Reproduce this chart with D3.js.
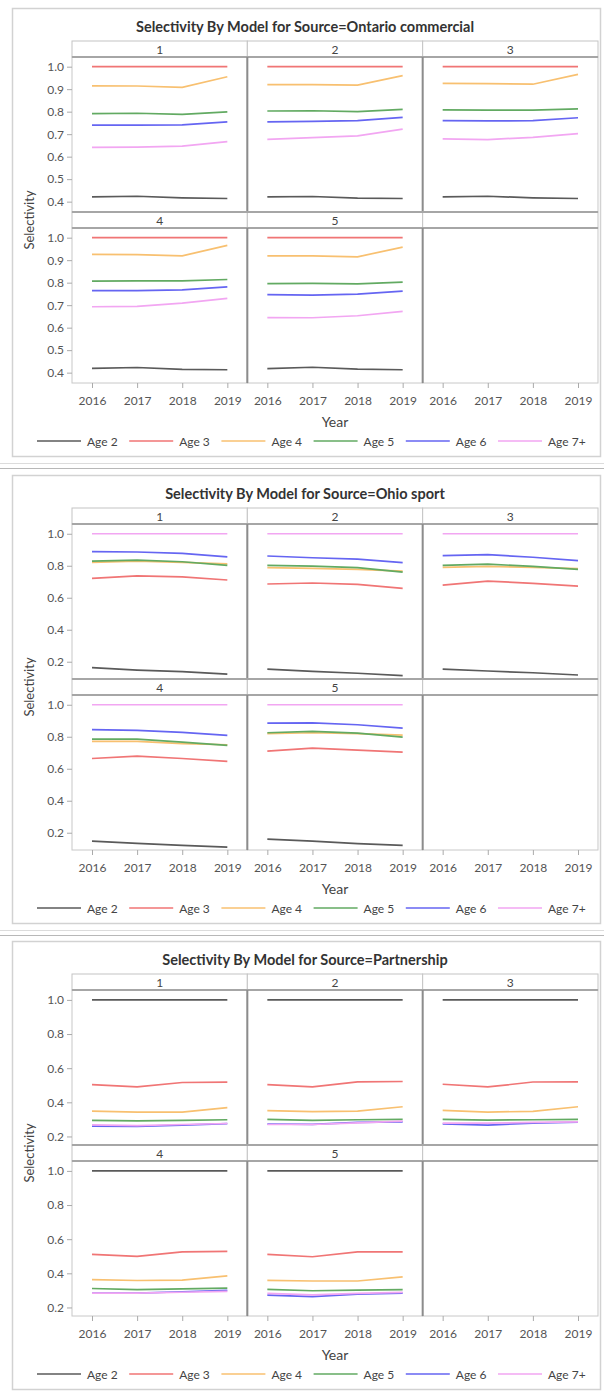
<!DOCTYPE html>
<html>
<head>
<meta charset="utf-8">
<script src="https://cdn.jsdelivr.net/npm/d3@7"></script>
<style>
  body { margin: 0; background: #fff; }
  text { font-family: Lato, "Open Sans", sans-serif; }
</style>
</head>
<body>
<svg id="chart" width="604" height="1391"></svg>
<script>
// Data
const years = [2016, 2017, 2018, 2019];
const ages = ["Age 2", "Age 3", "Age 4", "Age 5", "Age 6", "Age 7+"];
const models = ["1", "2", "3", "4", "5"];
const sources = ["Ontario commercial", "Ohio sport", "Partnership"];
const ageColors = ["#5a5a5a", "#f07575", "#f8c070", "#62aa62", "#6565f2", "#f2a6f2"];

// one block per model, one row per age (Age 2 .. Age 7+)
const ontarioSel = [
  [[0.421, 0.424, 0.417, 0.414], [1, 1, 1, 1], [0.915, 0.914, 0.908, 0.955], [0.791, 0.793, 0.788, 0.799], [0.740, 0.740, 0.741, 0.755], [0.641, 0.642, 0.647, 0.667]],
  [[0.421, 0.423, 0.416, 0.414], [1, 1, 1, 1], [0.920, 0.920, 0.918, 0.960], [0.803, 0.804, 0.800, 0.810], [0.755, 0.757, 0.760, 0.775], [0.677, 0.685, 0.692, 0.722]],
  [[0.421, 0.424, 0.417, 0.414], [1, 1, 1, 1], [0.926, 0.925, 0.922, 0.966], [0.808, 0.807, 0.807, 0.812], [0.760, 0.759, 0.760, 0.773], [0.679, 0.676, 0.686, 0.702]],
  [[0.419, 0.423, 0.415, 0.413], [1, 1, 1, 1], [0.926, 0.925, 0.919, 0.966], [0.807, 0.808, 0.808, 0.814], [0.765, 0.765, 0.768, 0.781], [0.693, 0.695, 0.709, 0.730]],
  [[0.418, 0.424, 0.416, 0.413], [1, 1, 1, 1], [0.919, 0.919, 0.915, 0.958], [0.796, 0.797, 0.795, 0.802], [0.747, 0.745, 0.749, 0.762], [0.645, 0.644, 0.653, 0.672]]
];

const ohioSel = [
  [[0.163, 0.148, 0.138, 0.123], [0.721, 0.737, 0.731, 0.711], [0.821, 0.829, 0.821, 0.812], [0.829, 0.835, 0.825, 0.802], [0.888, 0.886, 0.877, 0.856], [1, 1, 1, 1]],
  [[0.154, 0.140, 0.128, 0.113], [0.686, 0.692, 0.683, 0.659], [0.788, 0.784, 0.777, 0.767], [0.802, 0.798, 0.788, 0.760], [0.861, 0.850, 0.842, 0.819], [1, 1, 1, 1]],
  [[0.154, 0.142, 0.131, 0.117], [0.679, 0.704, 0.690, 0.673], [0.790, 0.796, 0.790, 0.782], [0.802, 0.810, 0.796, 0.777], [0.863, 0.869, 0.853, 0.832], [1, 1, 1, 1]],
  [[0.148, 0.133, 0.121, 0.110], [0.664, 0.679, 0.664, 0.646], [0.771, 0.771, 0.757, 0.750], [0.785, 0.785, 0.766, 0.746], [0.844, 0.840, 0.827, 0.808], [1, 1, 1, 1]],
  [[0.160, 0.147, 0.132, 0.121], [0.710, 0.729, 0.717, 0.704], [0.819, 0.825, 0.819, 0.810], [0.825, 0.833, 0.823, 0.798], [0.885, 0.887, 0.875, 0.854], [1, 1, 1, 1]]
];

const partnershipSel = [
  [[1, 1, 1, 1], [0.504, 0.490, 0.516, 0.518], [0.349, 0.343, 0.343, 0.369], [0.294, 0.291, 0.294, 0.298], [0.261, 0.259, 0.267, 0.275], [0.268, 0.264, 0.270, 0.276]],
  [[1, 1, 1, 1], [0.504, 0.490, 0.520, 0.522], [0.351, 0.345, 0.349, 0.374], [0.300, 0.294, 0.298, 0.300], [0.273, 0.271, 0.282, 0.286], [0.270, 0.270, 0.280, 0.290]],
  [[1, 1, 1, 1], [0.506, 0.490, 0.519, 0.520], [0.353, 0.343, 0.347, 0.374], [0.300, 0.296, 0.298, 0.300], [0.273, 0.267, 0.278, 0.284], [0.278, 0.278, 0.282, 0.286]],
  [[1, 1, 1, 1], [0.511, 0.499, 0.526, 0.529], [0.363, 0.358, 0.360, 0.385], [0.311, 0.304, 0.309, 0.313], [0.284, 0.284, 0.292, 0.300], [0.284, 0.284, 0.289, 0.294]],
  [[1, 1, 1, 1], [0.511, 0.497, 0.526, 0.526], [0.359, 0.355, 0.355, 0.379], [0.306, 0.298, 0.302, 0.304], [0.272, 0.264, 0.278, 0.284], [0.282, 0.274, 0.282, 0.288]]
];

const ontarioTicks = [0.4, 0.5, 0.6, 0.7, 0.8, 0.9, 1.0];
const ohioTicks = [0.2, 0.4, 0.6, 0.8, 1.0];
const partnershipTicks = [0.2, 0.4, 0.6, 0.8, 1.0];

// Layout
const svg = d3.select("#chart");
const colX0 = 72, colW = 526 / 3;
const stripH = 16, plotH = 155, rowStep = stripH + plotH;
const gridTop = 33;

const panels = [
  { source: sources[0], data: ontarioSel, ticks: ontarioTicks, domain: [0.354, 1.043], top: 8 },
  { source: sources[1], data: ohioSel, ticks: ohioTicks, domain: [0.092, 1.061], top: 475 },
  { source: sources[2], data: partnershipSel, ticks: partnershipTicks, domain: [0.15, 1.058], top: 941 }
];

// separators between the stacked screenshots
[463, 468, 930, 935].forEach((y, i) => {
  svg.append("line")
    .attr("x1", 0).attr("x2", 604)
    .attr("y1", y + 0.5).attr("y2", y + 0.5)
    .attr("stroke", i % 2 ? "#b8b8b8" : "#dcdcdc");
});

panels.forEach(drawPanel);

function drawPanel(p) {
  const g = svg.append("g").attr("transform", `translate(0,${p.top})`);

  g.append("rect")
    .attr("x", 12.5).attr("y", 0.5)
    .attr("width", 588).attr("height", 448)
    .attr("fill", "none").attr("stroke", "#d2d2d2").attr("stroke-width", 1.5);

  g.append("text")
    .attr("x", 305).attr("y", 24)
    .attr("text-anchor", "middle")
    .attr("font-size", 14.5).attr("font-weight", "bold")
    .attr("fill", "#333")
    .text(`Selectivity By Model for Source=${p.source}`);

  const x = d3.scaleLinear().domain([2016, 2019]).range([20, colW - 20]);
  const y = d3.scaleLinear().domain(p.domain).range([plotH, 0]);
  const line = d3.line().x((d, i) => x(years[i])).y(d => y(d));

  for (let r = 0; r < 2; r++) {
    const stripTop = gridTop + r * rowStep;
    const plotTop = stripTop + stripH;

    for (let c = 0; c < 3; c++) {
      const k = r * 3 + c;
      const fx = colX0 + c * colW;

      g.append("rect")
        .attr("x", fx).attr("y", stripTop)
        .attr("width", colW).attr("height", stripH)
        .attr("fill", "#fff").attr("stroke", "#c4c4c4");

      if (k < models.length) {
        g.append("text")
          .attr("x", fx + colW / 2).attr("y", stripTop + 12.5)
          .attr("text-anchor", "middle")
          .attr("font-size", 12).attr("fill", "#444")
          .text(models[k]);
      }

      const fg = g.append("g").attr("transform", `translate(${fx},${plotTop})`);
      fg.append("rect")
        .attr("width", colW).attr("height", plotH)
        .attr("fill", "#fff").attr("stroke", "#c8c8c8");

      if (k < models.length) {
        p.data[k].forEach((vals, a) => {
          fg.append("path")
            .datum(vals)
            .attr("fill", "none")
            .attr("stroke", ageColors[a])
            .attr("stroke-width", 1.7)
            .attr("d", line);
        });
      }

      if (r === 1) {
        const ax = fg.append("g")
          .attr("transform", `translate(0,${plotH})`)
          .call(d3.axisBottom(x).tickValues(years).tickFormat(d3.format("d")).tickSize(5));
        styleAxis(ax);
        ax.selectAll("text").attr("y", 13);
      }
    }

    // heavy rule under the strips
    g.append("line")
      .attr("x1", colX0).attr("x2", colX0 + 3 * colW)
      .attr("y1", plotTop).attr("y2", plotTop)
      .attr("stroke", "#a6a6a6").attr("stroke-width", 2);
    if (r === 1) {
      g.append("line")
        .attr("x1", colX0).attr("x2", colX0 + 3 * colW)
        .attr("y1", stripTop).attr("y2", stripTop)
        .attr("stroke", "#a6a6a6").attr("stroke-width", 2);
    }
    // heavy column dividers
    [1, 2].forEach(c => {
      g.append("line")
        .attr("x1", colX0 + c * colW).attr("x2", colX0 + c * colW)
        .attr("y1", plotTop).attr("y2", plotTop + plotH)
        .attr("stroke", "#8c8c8c").attr("stroke-width", 2);
    });

    const ay = g.append("g")
      .attr("transform", `translate(${colX0},${plotTop})`)
      .call(d3.axisLeft(y).tickValues(p.ticks).tickFormat(d3.format(".1f")).tickSize(5));
    styleAxis(ay);
    ay.selectAll("text").attr("x", -8);
  }

  g.append("text")
    .attr("transform", `translate(34,${gridTop + stripH + (2 * rowStep - stripH) / 2}) rotate(-90)`)
    .attr("text-anchor", "middle")
    .attr("font-size", 13).attr("fill", "#444")
    .text("Selectivity");

  g.append("text")
    .attr("x", colX0 + 1.5 * colW).attr("y", 419)
    .attr("text-anchor", "middle")
    .attr("font-size", 14).attr("fill", "#444")
    .text("Year");

  const lx = d3.scaleLinear().domain([0, 5]).range([37, 498]);
  ages.forEach((a, i) => {
    const x0 = lx(i);
    g.append("line")
      .attr("x1", x0).attr("x2", x0 + 44)
      .attr("y1", 433).attr("y2", 433)
      .attr("stroke", ageColors[i]).attr("stroke-width", 1.7);
    g.append("text")
      .attr("x", x0 + 50).attr("y", 437.5)
      .attr("font-size", 12).attr("fill", "#444")
      .text(a);
  });
}

function styleAxis(ax) {
  ax.select(".domain").remove();
  ax.selectAll(".tick line").attr("stroke", "#aaa");
  ax.selectAll("text").attr("fill", "#555").attr("font-size", 12)
    .style("font-family", "Lato, 'Open Sans', sans-serif");
}
</script>
</body>
</html>
